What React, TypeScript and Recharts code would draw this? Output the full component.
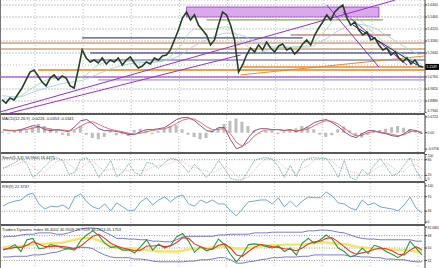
import {
  ComposedChart,
  Line,
  Bar,
  XAxis,
  YAxis,
  CartesianGrid,
  ReferenceLine,
  ReferenceArea,
} from 'recharts'

// price panel (closes per bar)
const closes = [
  4.896, 4.872, 4.912, 4.896, 4.943, 4.990, 5.053, 5.115, 5.131, 5.084,
  5.037, 5.006, 5.068, 5.092, 5.053, 5.084, 5.068, 5.006, 4.990, 5.131,
  5.288, 5.225, 5.194, 5.209, 5.186, 5.225, 5.178, 5.209, 5.194, 5.225,
  5.170, 5.209, 5.233, 5.186, 5.147, 5.162, 5.194, 5.178, 5.225, 5.209,
  5.241, 5.248, 5.288, 5.366, 5.444, 5.538, 5.585, 5.523, 5.562, 5.483,
  5.444, 5.405, 5.327, 5.366, 5.483, 5.585, 5.562, 5.483, 5.366, 5.115,
  5.170, 5.248, 5.303, 5.272, 5.327, 5.288, 5.350, 5.303, 5.272, 5.319,
  5.335, 5.288, 5.303, 5.256, 5.288, 5.335, 5.366, 5.327, 5.405, 5.460,
  5.507, 5.562, 5.523, 5.585, 5.617, 5.640, 5.538, 5.483, 5.507, 5.444,
  5.405, 5.429, 5.366, 5.382, 5.327, 5.288, 5.303, 5.248, 5.272, 5.225,
  5.194, 5.225, 5.178, 5.209, 5.162, 5.154,
]
// moving averages, read every 4th bar
const maFast = [4.90, 4.92, 5.00, 5.06, 5.07, 5.08, 5.17, 5.20, 5.20, 5.19, 5.20, 5.30, 5.45, 5.45, 5.47, 5.35, 5.27, 5.30, 5.31, 5.32, 5.42, 5.54, 5.54, 5.44, 5.33, 5.25, 5.19]
const maSlow = [4.93, 4.92, 4.96, 5.00, 5.03, 5.05, 5.10, 5.15, 5.18, 5.19, 5.20, 5.24, 5.32, 5.38, 5.42, 5.40, 5.34, 5.31, 5.31, 5.31, 5.36, 5.44, 5.49, 5.47, 5.40, 5.32, 5.25]
const lastPrice = 5.1549
const priceTicks = [5.64, 5.546, 5.452, 5.358, 5.264, 5.076, 4.982, 4.888, 4.794]
const priceGridLevels = [5.64, 5.546, 5.452, 5.358, 5.264, 5.17, 5.076, 4.982, 4.888]

// horizontal levels and where they start/end (bar index)
const levelPrices = [5.382, 5.342, 5.295, 5.264, 5.209, 5.154, 5.131, 5.076, 5.053, 5.405, 5.523]
const levelSpans = [[20, 75], [-0.5, 105.5], [-0.5, 105.5], [22, 105.5], [22, 105.5], [60, 105.5], [9, 105.5], [-0.5, 105.5], [24, 105.5], [72, 97], [51, 95]]

// trend lines [[bar, price], [bar, price]]
const trendLines = [
  [[-0.5, 4.802], [98, 5.678]],
  [[2, 4.794], [59.5, 5.248]],
  [[59.5, 5.092], [105.5, 5.241]],
  [[81, 5.64], [94, 5.154]],
  [[85, 5.585], [101, 5.17]],
  [[87.5, 5.483], [103.5, 5.17]],
]
const boxBars = [46, 94]
const boxPrices = [5.546, 5.624]

// MACD
const macdMain = [
  0.014, 0.009, 0.009, 0.014, 0.023, 0.032, 0.028, 0.014, 0.009, 0.014,
  0.009, 0.005, 0.028, 0.055, 0.060, 0.041, 0.018, 0.009, 0.009, 0.005,
  0.000, -0.009, -0.009, 0.005, 0.014, 0.014, 0.018, 0.023, 0.041, 0.060,
  0.069, 0.069, 0.055, 0.032, 0.009, 0.005, 0.023, 0.023, -0.032, -0.074,
  -0.064, -0.023, 0.009, 0.018, 0.018, 0.014, 0.014, 0.009, 0.014, 0.005,
  0.014, 0.028, 0.046, 0.055, 0.060, 0.046, 0.028, 0.005, -0.014, -0.023,
  -0.005, 0.009, 0.009, 0.000, -0.005, -0.014, -0.018, -0.005, 0.014, 0.009,
  -0.005,
]
const macdSignal = [
  0.012, 0.011, 0.010, 0.011, 0.015, 0.021, 0.025, 0.022, 0.016, 0.013,
  0.012, 0.009, 0.014, 0.030, 0.045, 0.050, 0.038, 0.025, 0.015, 0.009,
  0.004, -0.003, -0.006, -0.003, 0.004, 0.010, 0.014, 0.018, 0.027, 0.042,
  0.057, 0.064, 0.062, 0.047, 0.027, 0.014, 0.015, 0.019, -0.005, -0.045,
  -0.062, -0.045, -0.015, 0.004, 0.012, 0.014, 0.014, 0.011, 0.012, 0.008,
  0.010, 0.018, 0.032, 0.045, 0.055, 0.052, 0.040, 0.020, 0.000, -0.015,
  -0.012, 0.000, 0.005, 0.003, -0.002, -0.008, -0.014, -0.010, 0.004, 0.008,
  0.002,
]
const macdHist = [
  0.005, -0.004, 0.008, 0.015, 0.010, 0.025, 0.040, 0.030, 0.020, 0.012,
  -0.010, -0.015, 0.010, 0.030, -0.010, -0.025, -0.030, -0.020, 0.008, -0.012,
  -0.008, -0.015, 0.012, 0.018, 0.010, -0.006, 0.008, 0.020, 0.030, 0.035,
  0.015, -0.010, -0.020, -0.030, -0.025, 0.010, 0.020, 0.040, 0.055, 0.065,
  0.050, 0.030, 0.010, -0.005, 0.008, 0.012, -0.006, 0.006, 0.015, 0.020,
  0.030, 0.025, 0.015, -0.010, -0.020, -0.012, 0.015, 0.028, 0.010, -0.015,
  -0.022, -0.010, 0.005, 0.012, 0.018, 0.025, 0.030, 0.022, 0.015, 0.008,
  -0.005,
]
const macdTicks = [0.0724, 0, -0.0756]

// Stochastic
const stochMain = [
  46, 58, 69, 85, 62, 12, 31, 54, 77, 88,
  77, 23, 31, 81, 88, 58, 12, 42, 77, 15,
  31, 65, 31, 19, 69, 65, 46, 69, 85, 81,
  58, 31, 62, 38, 12, 38, 77, 46, 8, 2,
  2, 38, 77, 85, 88, 81, 54, 12, 58, 15,
  69, 85, 88, 85, 85, 54, 12, 77, 12, 2,
  42, 23, 58, 85, 54, 19, 27, 58, 88, 38,
  2,
]
const stochSignal = [
  50, 52, 58, 70, 72, 52, 35, 32, 54, 73,
  81, 63, 44, 45, 67, 76, 53, 37, 44, 45,
  41, 37, 42, 38, 40, 51, 60, 60, 67, 78,
  75, 57, 50, 44, 37, 29, 42, 54, 44, 19,
  4, 14, 39, 67, 83, 85, 74, 49, 41, 28,
  47, 56, 81, 86, 86, 75, 50, 48, 34, 30,
  19, 22, 41, 55, 66, 53, 33, 35, 58, 61,
  43,
]
const stochTicks = [100, 80, 20, 0]

// RSI
const rsi = [
  44, 53, 58, 61, 75, 80, 50, 36, 44, 42,
  47, 36, 69, 78, 56, 42, 36, 50, 31, 53,
  42, 31, 33, 56, 67, 47, 61, 69, 56, 69,
  75, 50, 44, 61, 53, 61, 50, 50, 31, 17,
  36, 56, 58, 61, 61, 50, 67, 42, 58, 42,
  58, 69, 67, 67, 83, 72, 53, 50, 39, 33,
  61, 47, 53, 42, 39, 36, 31, 47, 69, 39,
  25,
]
const rsiTicks = [100, 70, 30, 0]

// Traders Dynamic Index
const tdiUpper = [
  66, 67, 67, 69, 70, 70, 72, 72, 72, 70,
  70, 72, 75, 78, 79, 79, 78, 73, 69, 64,
  64, 63, 63, 62, 62, 60, 60, 59, 59, 62,
  66, 67, 67, 67, 67, 67, 69, 69, 70, 70,
  70, 70, 72, 72, 72, 73, 73, 73, 73, 73,
  73, 75, 75, 76, 76, 75, 73, 72, 69, 66,
  64, 63, 63, 62, 62, 62, 62, 62, 62, 60,
  60,
]
const tdiLower = [
  37, 37, 38, 38, 38, 40, 40, 41, 43, 44,
  47, 49, 50, 51, 51, 49, 44, 40, 37, 36,
  36, 36, 34, 34, 33, 31, 30, 30, 30, 30,
  30, 31, 31, 33, 33, 34, 36, 36, 33, 28,
  28, 30, 31, 33, 34, 36, 36, 37, 37, 37,
  38, 38, 40, 40, 40, 40, 40, 40, 38, 38,
  37, 37, 36, 36, 34, 34, 33, 33, 31, 30,
  30,
]
const tdiMid = [
  51, 52, 52, 53, 54, 55, 56, 56, 57, 57,
  58, 60, 62, 64, 65, 64, 61, 57, 53, 50,
  50, 49, 49, 48, 47, 46, 45, 45, 45, 45,
  46, 48, 49, 50, 50, 51, 52, 52, 51, 49,
  49, 50, 51, 52, 53, 54, 54, 55, 55, 55,
  55, 56, 57, 58, 58, 57, 56, 56, 54, 52,
  51, 50, 49, 49, 48, 48, 47, 47, 46, 45,
  45,
]
const tdiPrice = [
  47, 50, 55, 45, 62, 64, 49, 50, 55, 53,
  50, 49, 47, 61, 69, 75, 68, 57, 51, 52,
  47, 47, 43, 52, 62, 47, 56, 50, 54, 66,
  71, 60, 44, 52, 46, 49, 63, 55, 41, 30,
  40, 55, 56, 55, 52, 50, 53, 45, 50, 40,
  57, 64, 57, 62, 69, 63, 50, 45, 37, 40,
  50, 42, 54, 51, 45, 41, 36, 42, 60, 50,
  40,
]
const tdiSignal = [
  48, 49, 51, 51, 54, 59, 56, 52, 52, 53,
  52, 51, 49, 53, 60, 67, 70, 64, 57, 53,
  50, 48, 46, 47, 53, 53, 54, 52, 53, 58,
  65, 64, 56, 52, 49, 48, 54, 56, 50, 40,
  38, 45, 51, 55, 54, 52, 51, 49, 48, 46,
  50, 56, 59, 60, 64, 65, 59, 52, 45, 41,
  43, 45, 48, 50, 49, 46, 41, 40, 47, 52,
  47,
]
const tdiTicks = [68, 50, 32]

const W = 439
const AXIS_W = 14
const FONT = '"Liberation Sans", Arial, sans-serif'
const zeroMargin = { top: 0, right: 0, bottom: 0, left: 0 }

const priceData = closes.map((c, i) => ({
  i,
  c,
  fast: i % 4 === 0 ? maFast[i / 4] : null,
  slow: i % 4 === 0 ? maSlow[i / 4] : null,
}))
const indData = macdMain.map((m, i) => ({
  i,
  macd: m,
  sig: macdSignal[i],
  hist: macdHist[i],
  k: stochMain[i],
  d: stochSignal[i],
  rsi: rsi[i],
  up: tdiUpper[i],
  lo: tdiLower[i],
  mid: tdiMid[i],
  px: tdiPrice[i],
  ts: tdiSignal[i],
}))

const priceGrid = Array.from({ length: 35 }, (_, k) => 2.25 + 3 * k)
const indGrid = Array.from({ length: 35 }, (_, k) => 1.34 + 2 * k)

const levelColors = ['#1b1b7a', '#b8733a', '#b8733a', '#1b1b7a', '#23237e', '#e8892e', '#f2a04a', '#8e2fc9', '#9a7ad8', '#a0522d', '#6b8e23']
const levelWidths = [1, 1, 1, 1, 0.8, 1.4, 2, 1.2, 1, 1, 1]
const trendColors = ['#9b30d0', '#9b30d0', '#e8892e', '#8e2fc9', '#8e2fc9', '#1b1b7a']

// tick label kept inside its panel (labels at the very edge get nudged in)
function makeTick(panelH: number, fmt: (v: number) => string) {
  return (props: any) => {
    const y = Math.min(Math.max(props.y, 2.2), panelH - 2.4)
    return (
      <text x={427.5} y={y} dy="0.35em" fontSize={3.4} fill="#222" fontFamily={FONT} textAnchor="start">
        {fmt(props.payload.value)}
      </text>
    )
  }
}

function PriceTag(props: any) {
  const vb = props.viewBox || {}
  const x = (vb.x ?? 0) + (vb.width ?? 0)
  const y = vb.y ?? 0
  return (
    <g>
      <rect x={x} y={y - 3} width={14} height={6} fill="#000" />
      <text x={x + 1.5} y={y + 1.2} fontSize={3.4} fill="#fff" fontFamily={FONT}>
        {lastPrice.toFixed(4)}
      </text>
    </g>
  )
}

function Header({ top, text }: { top: number; text: string }) {
  return (
    <div
      style={{
        position: 'absolute',
        left: 2,
        top,
        fontSize: 4,
        lineHeight: '5px',
        fontFamily: FONT,
        color: '#222',
        whiteSpace: 'nowrap',
      }}
    >
      {text}
    </div>
  )
}

function Separator({ top }: { top: number }) {
  return <div style={{ position: 'absolute', left: 0, top, width: 425, height: 2, background: '#5a5a5a' }} />
}

function Panel({ top, height, children }: { top: number; height: number; children: React.ReactNode }) {
  return <div style={{ position: 'absolute', left: 0, top, width: W, height }}>{children}</div>
}

export default function App() {
  const yAxisCommon = {
    orientation: 'right' as const,
    width: AXIS_W,
    interval: 0 as const,
    tickSize: 2,
    axisLine: { stroke: '#444' },
    tickLine: { stroke: '#444' },
    allowDataOverflow: true,
  }

  return (
    <div style={{ position: 'absolute', left: 0, top: 0, width: W, height: 268, background: '#fff', overflow: 'hidden' }}>
      <Panel top={0} height={113}>
        <ComposedChart width={W} height={113} data={priceData} margin={zeroMargin}>
          <CartesianGrid stroke="#c4c4c4" strokeDasharray="1 2" />
          <XAxis dataKey="i" type="number" domain={[-0.5, 105.5]} ticks={priceGrid} hide />
          <YAxis {...yAxisCommon} domain={[4.794, 5.679]} ticks={priceTicks} tick={makeTick(113, (v) => v.toFixed(4))} />
          {priceGridLevels.map((p) => (
            <ReferenceLine key={`g-${p}`} y={p} stroke="#c4c4c4" strokeDasharray="1 2" />
          ))}
          <ReferenceArea
            x1={boxBars[0]}
            x2={boxBars[1]}
            y1={boxPrices[0]}
            y2={boxPrices[1]}
            fill="#d49ae6"
            fillOpacity={0.85}
            stroke="#9b30d0"
            strokeWidth={0.8}
          />
          {levelPrices.map((p, n) => (
            <ReferenceLine
              key={`lv-${n}`}
              segment={[
                { x: levelSpans[n][0], y: p },
                { x: levelSpans[n][1], y: p },
              ]}
              stroke={levelColors[n]}
              strokeWidth={levelWidths[n]}
              ifOverflow="hidden"
            />
          ))}
          {trendLines.map((t, n) => (
            <ReferenceLine
              key={`tl-${n}`}
              segment={[
                { x: t[0][0], y: t[0][1] },
                { x: t[1][0], y: t[1][1] },
              ]}
              stroke={trendColors[n]}
              strokeWidth={1}
              ifOverflow="hidden"
            />
          ))}
          <Line type="monotone" dataKey="slow" stroke="#9ecae1" strokeWidth={0.8} dot={false} connectNulls isAnimationActive={false} />
          <Line type="monotone" dataKey="fast" stroke="#9fd89f" strokeWidth={0.8} dot={false} connectNulls isAnimationActive={false} />
          <Line type="linear" dataKey="c" stroke="#263f26" strokeWidth={1.6} dot={false} isAnimationActive={false} />
          <ReferenceLine y={lastPrice} stroke="none" label={<PriceTag />} />
        </ComposedChart>
      </Panel>
      <Separator top={113} />

      <Panel top={115} height={37}>
        <ComposedChart width={W} height={37} data={indData} margin={zeroMargin}>
          <CartesianGrid stroke="#c4c4c4" strokeDasharray="1 2" horizontal={false} />
          <XAxis dataKey="i" type="number" domain={[-0.5, 70.5]} ticks={indGrid} hide />
          <YAxis {...yAxisCommon} domain={[-0.089, 0.081]} ticks={macdTicks} tick={makeTick(37, (v) => (v === 0 ? '0.00' : v.toFixed(4)))} />
          <Bar dataKey="hist" fill="#bdbdbd" barSize={3} isAnimationActive={false} />
          <Line type="linear" dataKey="macd" stroke="#7a3f7a" strokeWidth={0.9} dot={false} isAnimationActive={false} />
          <Line type="linear" dataKey="sig" stroke="#e06060" strokeWidth={0.9} dot={false} isAnimationActive={false} />
        </ComposedChart>
      </Panel>
      <Header top={116} text="MACD(12,26,9) -0.0226 -0.0353 -0.0341" />
      <Separator top={152} />

      <Panel top={154} height={27}>
        <ComposedChart width={W} height={27} data={indData} margin={zeroMargin}>
          <CartesianGrid stroke="#c4c4c4" strokeDasharray="1 2" horizontal={false} />
          <XAxis dataKey="i" type="number" domain={[-0.5, 70.5]} ticks={indGrid} hide />
          <YAxis {...yAxisCommon} domain={[-2, 102]} ticks={stochTicks} tick={makeTick(27, (v) => String(v))} />
          <ReferenceLine y={80} stroke="#9a9a9a" strokeDasharray="1 1.5" />
          <ReferenceLine y={20} stroke="#9a9a9a" strokeDasharray="1 1.5" />
          <Line type="linear" dataKey="d" stroke="#d9a0a0" strokeWidth={0.7} strokeDasharray="1 1" dot={false} isAnimationActive={false} />
          <Line type="linear" dataKey="k" stroke="#5e9c9c" strokeWidth={0.9} strokeDasharray="1 0.8" dot={false} isAnimationActive={false} />
        </ComposedChart>
      </Panel>
      <Header top={155} text="Stoch(5,3,3) 16.9600 16.4475" />
      <Separator top={181} />

      <Panel top={183} height={41}>
        <ComposedChart width={W} height={41} data={indData} margin={zeroMargin}>
          <CartesianGrid stroke="#c4c4c4" strokeDasharray="1 2" horizontal={false} />
          <XAxis dataKey="i" type="number" domain={[-0.5, 70.5]} ticks={indGrid} hide />
          <YAxis {...yAxisCommon} domain={[-5.5, 108]} ticks={rsiTicks} tick={makeTick(41, (v) => String(v))} />
          <ReferenceLine y={70} stroke="#9a9a9a" strokeDasharray="1 1.5" />
          <ReferenceLine y={30} stroke="#9a9a9a" strokeDasharray="1 1.5" />
          <Line type="linear" dataKey="rsi" stroke="#72a9d2" strokeWidth={1} dot={false} isAnimationActive={false} />
        </ComposedChart>
      </Panel>
      <Header top={184} text="RSI(9) 22.3747" />
      <Separator top={224} />

      <Panel top={226} height={42}>
        <ComposedChart width={W} height={42} data={indData} margin={zeroMargin}>
          <CartesianGrid stroke="#c4c4c4" strokeDasharray="1 2" horizontal={false} />
          <XAxis dataKey="i" type="number" domain={[-0.5, 70.5]} ticks={indGrid} hide />
          <YAxis {...yAxisCommon} domain={[21, 82]} ticks={[80.5, ...tdiTicks]} tick={makeTick(42, (v) => (v > 80 ? '82.0867' : String(v)))} />
          {tdiTicks.map((t) => (
            <ReferenceLine key={t} y={t} stroke="#9a9a9a" strokeDasharray="1 1.5" />
          ))}
          <Line type="linear" dataKey="mid" stroke="#f3e46a" strokeWidth={2.4} dot={false} isAnimationActive={false} />
          <Line type="linear" dataKey="up" stroke="#6b6bc9" strokeWidth={0.9} dot={false} isAnimationActive={false} />
          <Line type="linear" dataKey="lo" stroke="#6b6bc9" strokeWidth={0.9} dot={false} isAnimationActive={false} />
          <Line type="linear" dataKey="px" stroke="#2a9a3a" strokeWidth={1.1} dot={false} isAnimationActive={false} />
          <Line type="linear" dataKey="ts" stroke="#e03a2a" strokeWidth={1.1} dot={false} isAnimationActive={false} />
        </ComposedChart>
      </Panel>
      <Header top={227} text="Traders Dynamic Index 36.4002 40.9509 25.7559 36.2613 45.1753" />
      <div style={{ position: 'absolute', left: 0, top: 0, width: 1, height: 268, background: '#777' }} />
    </div>
  )
}
